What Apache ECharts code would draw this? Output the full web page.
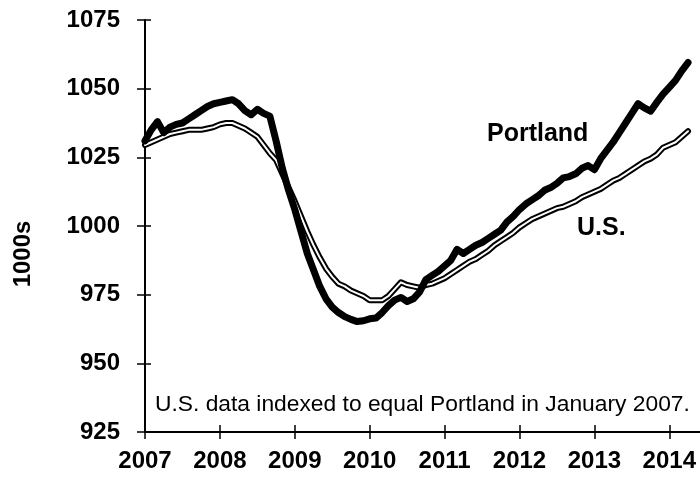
<!DOCTYPE html>
<html>
<head>
<meta charset="utf-8">
<script src="https://cdn.jsdelivr.net/npm/echarts@6/dist/echarts.min.js"></script>
<style>
html,body{margin:0;padding:0;background:#fff;}
#chart{width:700px;height:477px;}
</style>
</head>
<body>
<div id="chart"></div>
<script>
// Monthly data, January 2007 - April 2014 (thousands of jobs)
const startYear = 2007;
const yearTicks = [2007, 2008, 2009, 2010, 2011, 2012, 2013, 2014];
const yTicks = [925, 950, 975, 1000, 1025, 1050, 1075];
const portland = [
  1031, 1035, 1038, 1034, 1036, 1037, 1037.5, 1039, 1040.5, 1042, 1043.5, 1044.5,
  1045, 1045.5, 1046, 1044.5, 1042, 1040.5, 1042.5, 1041, 1040, 1031, 1021, 1013,
  1006, 998, 990, 984, 978, 973.5, 970.5, 968.5, 967, 966, 965.2, 965.5,
  966.2, 966.5, 968.5, 971, 973, 974, 972.5, 973.5, 976, 980.5, 982, 983.5,
  985.5, 987.5, 991.5, 990, 991.5, 993, 994, 995.5, 997, 998.5, 1001.5, 1003.5,
  1006, 1008, 1009.5, 1011, 1013, 1014, 1015.5, 1017.5, 1018, 1019, 1021, 1022,
  1020.5, 1024.5, 1027.5, 1030.5, 1034, 1037.5, 1041, 1044.5, 1043, 1041.8, 1045, 1048,
  1050.5, 1053, 1056.5, 1059.5
];
const us = [
  1029.5, 1030.5, 1031.5, 1032.5, 1033.5, 1034, 1034.5, 1035, 1035, 1035, 1035.5, 1036,
  1037, 1037.5, 1037.5, 1036.5, 1035.5, 1034, 1032.5, 1029.5, 1026.5, 1024, 1019, 1014,
  1009, 1003.5, 998, 993, 988.5, 984.5, 981.5, 979, 978, 976.5, 975.5, 974.5,
  973, 973, 973, 974.5, 977, 979.5, 978.5, 978, 977.5, 978.5, 979, 980,
  981, 982.5, 984, 985.5, 987, 988, 989.5, 991, 993, 994.5, 996, 997.5,
  999.5, 1001, 1002.5, 1003.5, 1004.5, 1005.5, 1006.5, 1007, 1008, 1009, 1010.5, 1011.5,
  1012.5, 1013.5, 1015, 1016.5, 1017.5, 1019, 1020.5, 1022, 1023.5, 1024.5, 1026, 1028.5,
  1029.5, 1030.5, 1032.5, 1034.5
];
const note = 'U.S. data indexed to equal Portland in January 2007.';
const yName = '1000s';

const toPairs = arr => arr.map((v, i) => [startYear + i / 12, v]);
const font = '"Liberation Sans", Arial, Helvetica, sans-serif';

const chart = echarts.init(document.getElementById('chart'), null, {renderer: 'canvas'});
const baseX = {
  type: 'value', min: 2007, max: 2014.41,
  splitLine: {show: false}
};
const baseY = {
  type: 'value', min: 925, max: 1075, interval: 25,
  splitLine: {show: false}
};
chart.setOption({
  animation: false,
  backgroundColor: '#fff',
  grid: {left: 145, top: 20, right: 0, bottom: 45, containLabel: false},
  xAxis: [
    Object.assign({}, baseX, {
      position: 'bottom',
      axisLine: {show: true, lineStyle: {color: '#000', width: 2}},
      axisTick: {show: true, inside: false, length: 7, lineStyle: {color: '#000', width: 1.5}, customValues: yearTicks},
      axisLabel: {show: true, customValues: yearTicks, margin: 17, color: '#000',
        fontFamily: font, fontWeight: 'bold', fontSize: 24,
        formatter: v => String(Math.round(v))}
    }),
    Object.assign({}, baseX, {
      position: 'bottom',
      axisLine: {show: false},
      axisTick: {show: true, inside: true, length: 7, lineStyle: {color: '#000', width: 1.5}, customValues: yearTicks},
      axisLabel: {show: false}
    })
  ],
  yAxis: [
    Object.assign({}, baseY, {
      position: 'left',
      axisLine: {show: true, lineStyle: {color: '#000', width: 2}},
      axisTick: {show: true, inside: false, length: 8, lineStyle: {color: '#000', width: 1.5}, customValues: yTicks},
      axisLabel: {show: true, customValues: yTicks, margin: 25, color: '#000',
        fontFamily: font, fontWeight: 'bold', fontSize: 24,
        formatter: v => String(v)}
    }),
    Object.assign({}, baseY, {
      position: 'left',
      axisLine: {show: false},
      axisTick: {show: true, inside: true, length: 6, lineStyle: {color: '#000', width: 1.5}, customValues: yTicks},
      axisLabel: {show: false}
    })
  ],
  series: [
    {name: 'U.S. outline', type: 'line', data: toPairs(us), showSymbol: false, symbol: 'none',
      lineStyle: {color: '#000', width: 6, cap: 'round', join: 'round'}, z: 2},
    {name: 'U.S.', type: 'line', data: toPairs(us), showSymbol: false, symbol: 'none',
      lineStyle: {color: '#fff', width: 2, cap: 'round', join: 'round'}, z: 3},
    {name: 'Portland', type: 'line', data: toPairs(portland), showSymbol: false, symbol: 'none',
      lineStyle: {color: '#000', width: 7, cap: 'round', join: 'round'}, z: 4}
  ],
  graphic: [
    {type: 'text', x: 23, y: 254, rotation: Math.PI / 2,
      style: {text: yName, fill: '#000', font: 'bold 24px ' + font, textAlign: 'center', textVerticalAlign: 'middle'}},
    {type: 'text', left: 487, top: 122, style: {text: 'Portland', fill: '#000', font: 'bold 25px ' + font}},
    {type: 'text', left: 577, top: 216, style: {text: 'U.S.', fill: '#000', font: 'bold 25px ' + font}},
    {type: 'text', left: 155, top: 393, style: {text: note, fill: '#000', font: '22.8px ' + font}}
  ]
});
</script>
</body>
</html>
